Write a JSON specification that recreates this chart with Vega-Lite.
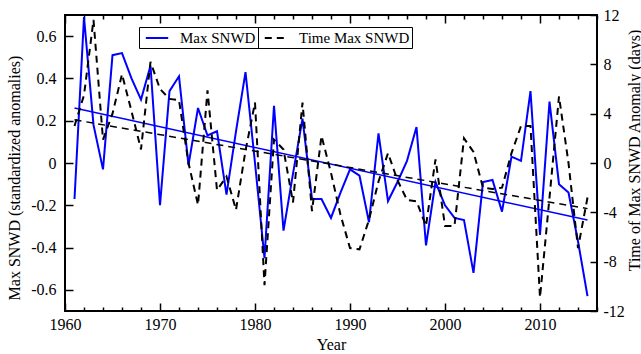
{
  "$schema": "https://vega.github.io/schema/vega-lite/v6.json",
  "width": 532,
  "height": 296,
  "autosize": {"type": "none"},
  "padding": {"left": 65, "top": 15, "right": 44, "bottom": 43},
  "config": {
    "font": "Liberation Serif",
    "view": {"stroke": "black", "strokeWidth": 2},
    "axis": {"grid": false, "domain": false, "labelFont": "Liberation Serif", "titleFont": "Liberation Serif", "labelColor": "black", "titleColor": "black", "tickColor": "black", "titleFontWeight": "normal", "labelFontSize": 16, "titleFontSize": 16, "tickWidth": 1.5},
    "legend": {"labelFont": "Liberation Serif", "labelFontSize": 15, "labelColor": "black"}
  },
  "datasets": {
    "main": [
      {"year": 1961, "snwd": -0.17, "time": 3.0},
      {"year": 1962, "snwd": 0.69, "time": 5.5},
      {"year": 1963, "snwd": 0.18, "time": 11.6},
      {"year": 1964, "snwd": -0.03, "time": 1.9},
      {"year": 1965, "snwd": 0.51, "time": 4.0},
      {"year": 1966, "snwd": 0.52, "time": 7.2},
      {"year": 1967, "snwd": 0.40, "time": 4.2},
      {"year": 1968, "snwd": 0.30, "time": 1.1},
      {"year": 1969, "snwd": 0.46, "time": 8.2},
      {"year": 1970, "snwd": -0.20, "time": 6.0},
      {"year": 1971, "snwd": 0.34, "time": 5.2},
      {"year": 1972, "snwd": 0.41, "time": 5.1},
      {"year": 1973, "snwd": -0.01, "time": 0.0},
      {"year": 1974, "snwd": 0.26, "time": -3.4},
      {"year": 1975, "snwd": 0.13, "time": 5.9},
      {"year": 1976, "snwd": 0.15, "time": -2.2},
      {"year": 1977, "snwd": -0.15, "time": -1.1},
      {"year": 1978, "snwd": 0.15, "time": -3.8},
      {"year": 1979, "snwd": 0.43, "time": 1.0},
      {"year": 1980, "snwd": 0.0, "time": 4.9},
      {"year": 1981, "snwd": -0.45, "time": -9.9},
      {"year": 1982, "snwd": 0.27, "time": 1.9},
      {"year": 1983, "snwd": -0.32, "time": 1.1},
      {"year": 1984, "snwd": -0.05, "time": -3.2},
      {"year": 1985, "snwd": 0.21, "time": 4.9},
      {"year": 1986, "snwd": -0.17, "time": -3.9},
      {"year": 1987, "snwd": -0.17, "time": 2.2},
      {"year": 1988, "snwd": -0.26, "time": -0.8},
      {"year": 1989, "snwd": -0.14, "time": -4.2},
      {"year": 1990, "snwd": -0.03, "time": -6.9},
      {"year": 1991, "snwd": -0.06, "time": -7.0},
      {"year": 1992, "snwd": -0.28, "time": -4.6},
      {"year": 1993, "snwd": 0.14, "time": -1.5},
      {"year": 1994, "snwd": -0.18, "time": 0.8},
      {"year": 1995, "snwd": -0.09, "time": -1.4},
      {"year": 1996, "snwd": 0.01, "time": -3.0},
      {"year": 1997, "snwd": 0.17, "time": -3.1},
      {"year": 1998, "snwd": -0.39, "time": -5.1},
      {"year": 1999, "snwd": -0.09, "time": 0.3},
      {"year": 2000, "snwd": -0.20, "time": -5.1},
      {"year": 2001, "snwd": -0.26, "time": -5.1},
      {"year": 2002, "snwd": -0.27, "time": 2.0},
      {"year": 2003, "snwd": -0.52, "time": 0.9},
      {"year": 2004, "snwd": -0.09, "time": -2.0},
      {"year": 2005, "snwd": -0.08, "time": -2.1},
      {"year": 2006, "snwd": -0.23, "time": -2.0},
      {"year": 2007, "snwd": 0.03, "time": 0.8},
      {"year": 2008, "snwd": 0.01, "time": 3.0},
      {"year": 2009, "snwd": 0.34, "time": 3.0},
      {"year": 2010, "snwd": -0.34, "time": -10.9},
      {"year": 2011, "snwd": 0.29, "time": -2.8},
      {"year": 2012, "snwd": -0.10, "time": 5.4},
      {"year": 2013, "snwd": -0.14, "time": 0.0},
      {"year": 2014, "snwd": -0.37, "time": -6.9},
      {"year": 2015, "snwd": -0.63, "time": -2.8}
    ],
    "trend": [
      {"year": 1961, "snwd_trend": 0.26, "time_trend": 3.5},
      {"year": 2015, "snwd_trend": -0.27, "time_trend": -3.7}
    ]
  },
  "resolve": {"scale": {"y": "independent"}, "axis": {"x": "independent"}},
  "layer": [
    {
      "encoding": {
        "x": {
          "field": "year", "type": "quantitative",
          "scale": {"domain": [1960, 2016], "nice": false, "zero": false},
          "axis": {
            "orient": "bottom", "title": "Year", "titleX": 266, "titleY": 38.5, "titleBaseline": "alphabetic", "titleAlign": "center",
            "values": [1960,1962,1964,1966,1968,1970,1972,1974,1976,1978,1980,1982,1984,1986,1988,1990,1992,1994,1996,1998,2000,2002,2004,2006,2008,2010,2012,2014,2016],
            "labelExpr": "datum.value % 10 === 0 && datum.value < 2016 ? toString(datum.value) : ''",
            "labelFlush": false, "labelOverlap": false, "labelPadding": 13,
            "tickSize": {"condition": {"test": "datum.value % 10 === 0", "value": -8}, "value": -4}
          }
        }
      },
      "layer": [
        {
          "data": {"name": "main"},
          "mark": {"type": "line", "strokeWidth": 2},
          "encoding": {
            "y": {
              "field": "snwd", "type": "quantitative",
              "scale": {"domain": [-0.7, 0.7], "nice": false, "zero": false},
              "axis": {
                "orient": "left", "title": "Max SNWD (standardized anomalies)", "titleX": -45.5, "titleY": 162.5, "titleAngle": 270, "titleBaseline": "alphabetic", "titleAlign": "center",
                "values": [-0.6,-0.5,-0.4,-0.3,-0.2,-0.1,0,0.1,0.2,0.3,0.4,0.5,0.6],
                "labelExpr": "abs(round(datum.value*10)) % 2 === 0 ? toString(datum.value) : ''",
                "labelOverlap": false, "labelPadding": 17,
                "tickSize": {"condition": {"test": "abs(round(datum.value*10)) % 2 === 0", "value": -8}, "value": -5}
              }
            },
            "color": {
              "datum": "Max SNWD",
              "scale": {"domain": ["Max SNWD"], "range": ["#0000ff"]},
              "legend": {
                "title": null, "orient": "none", "legendX": 74, "legendY": 12,
                "strokeColor": "black", "padding": 2, "symbolType": "M-1.4,0H1.4", "symbolSize": 256,
                "symbolOffset": 7, "symbolStrokeWidth": 2, "labelOffset": 14
              }
            }
          }
        },
        {
          "data": {"name": "trend"},
          "mark": {"type": "line", "strokeWidth": 1.5},
          "encoding": {
            "y": {"field": "snwd_trend", "type": "quantitative"},
            "color": {"datum": "Max SNWD"}
          }
        },
        {
          "data": {"name": "trend"},
          "mark": {"type": "rule", "color": "black", "strokeWidth": 1, "strokeDash": [5, 3]},
          "encoding": {"y": {"datum": 0}}
        }
      ]
    },
    {
      "data": {"name": "main"},
      "encoding": {
        "x": {
          "field": "year", "type": "quantitative",
          "axis": {
            "orient": "top", "title": null, "labels": false,
            "values": [1960,1962,1964,1966,1968,1970,1972,1974,1976,1978,1980,1982,1984,1986,1988,1990,1992,1994,1996,1998,2000,2002,2004,2006,2008,2010,2012,2014,2016],
            "tickSize": {"condition": {"test": "datum.value % 10 === 0", "value": -8}, "value": -4}
          }
        }
      },
      "layer": [
        {
          "mark": {"type": "line", "strokeWidth": 2, "color": "black"},
          "encoding": {
            "y": {
              "field": "time", "type": "quantitative",
              "scale": {"domain": [-12, 12], "nice": false, "zero": false},
              "axis": {
                "orient": "right", "title": "Time of Max SNWD Anomaly (days)", "titleX": 42, "titleY": 135, "titleAngle": 270, "titleBaseline": "alphabetic", "titleAlign": "center",
                "values": [-12,-10,-8,-6,-4,-2,0,2,4,6,8,10,12],
                "labelExpr": "datum.value % 4 === 0 ? toString(datum.value) : ''",
                "labelOverlap": false, "labelPadding": 13,
                "tickSize": {"condition": {"test": "datum.value % 4 === 0", "value": -7}, "value": -4}
              }
            },
            "strokeDash": {
              "datum": "Time Max SNWD",
              "scale": {"domain": ["Time Max SNWD"], "range": [[7, 5]]},
              "legend": {
                "title": null, "orient": "none", "legendX": 193, "legendY": 12,
                "strokeColor": "black", "padding": 2, "symbolType": "M-1.4,0H1.4", "symbolSize": 256,
                "symbolOffset": 7, "symbolStrokeWidth": 2, "symbolStrokeColor": "black", "labelOffset": 14
              }
            }
          }
        },
        {
          "data": {"name": "trend"},
          "mark": {"type": "line", "strokeWidth": 1.5, "color": "black"},
          "encoding": {
            "y": {"field": "time_trend", "type": "quantitative"},
            "strokeDash": {"datum": "Time Max SNWD"}
          }
        }
      ]
    }
  ]
}
